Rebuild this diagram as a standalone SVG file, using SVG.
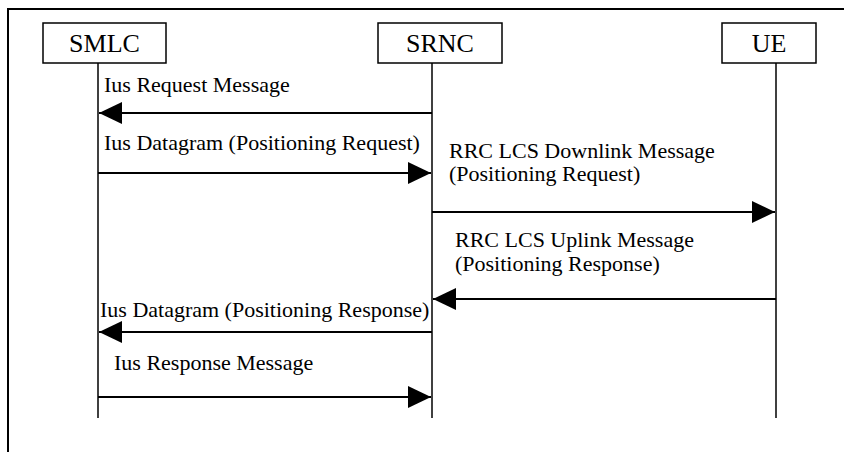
<svg xmlns="http://www.w3.org/2000/svg" width="844" height="452" viewBox="0 0 844 452">
<style>
.box{fill:#fff;stroke:#000;stroke-width:1.5}
.life{stroke:#000;stroke-width:1.5;fill:none}
.msg{stroke:#000;stroke-width:2;fill:none}
.hd{font-family:"Liberation Serif","Times New Roman",serif;font-size:26px;text-anchor:middle;fill:#000}
.lb{font-family:"Liberation Serif","Times New Roman",serif;font-size:22px;fill:#000}
</style>
<defs>
<marker id="ah" viewBox="0 0 23 22" refX="23" refY="11" markerWidth="23" markerHeight="22" markerUnits="userSpaceOnUse" orient="auto">
<path d="M0,0 L23,11 L0,22 Z" fill="#000"/>
</marker>
</defs>
<rect width="844" height="452" fill="#fff"/>
<rect x="8" y="9" width="900" height="500" fill="none" stroke="#000" stroke-width="2"/>
<g id="SMLC">
<rect class="box" x="43" y="23" width="123" height="40"/>
<text class="hd" x="104.5" y="52">SMLC</text>
<line class="life" x1="98" y1="63" x2="98" y2="418"/>
</g>
<g id="SRNC">
<rect class="box" x="378" y="23" width="124" height="40"/>
<text class="hd" x="440" y="52">SRNC</text>
<line class="life" x1="432" y1="63" x2="432" y2="418"/>
</g>
<g id="UE">
<rect class="box" x="722" y="23" width="94" height="40"/>
<text class="hd" x="769" y="52">UE</text>
<line class="life" x1="776" y1="63" x2="776" y2="418"/>
</g>
<g id="connectors">
<line class="msg" x1="432" y1="113" x2="99" y2="113" marker-end="url(#ah)"/>
<line class="msg" x1="98" y1="173" x2="431" y2="173" marker-end="url(#ah)"/>
<line class="msg" x1="432" y1="212" x2="775" y2="212" marker-end="url(#ah)"/>
<line class="msg" x1="776" y1="299" x2="433" y2="299" marker-end="url(#ah)"/>
<line class="msg" x1="432" y1="332" x2="99" y2="332" marker-end="url(#ah)"/>
<line class="msg" x1="98" y1="397" x2="431" y2="397" marker-end="url(#ah)"/>
</g>
<g id="labels">
<text class="lb" x="104" y="92">Ius Request Message</text>
<text class="lb" x="104" y="150">Ius Datagram (Positioning Request)</text>
<text class="lb" x="449" y="158">RRC LCS Downlink Message</text>
<text class="lb" x="449" y="181">(Positioning Request)</text>
<text class="lb" x="455" y="247">RRC LCS Uplink Message</text>
<text class="lb" x="455" y="271">(Positioning Response)</text>
<text class="lb" x="100" y="317">Ius Datagram (Positioning Response)</text>
<text class="lb" x="114" y="370">Ius Response Message</text>
</g>
</svg>
